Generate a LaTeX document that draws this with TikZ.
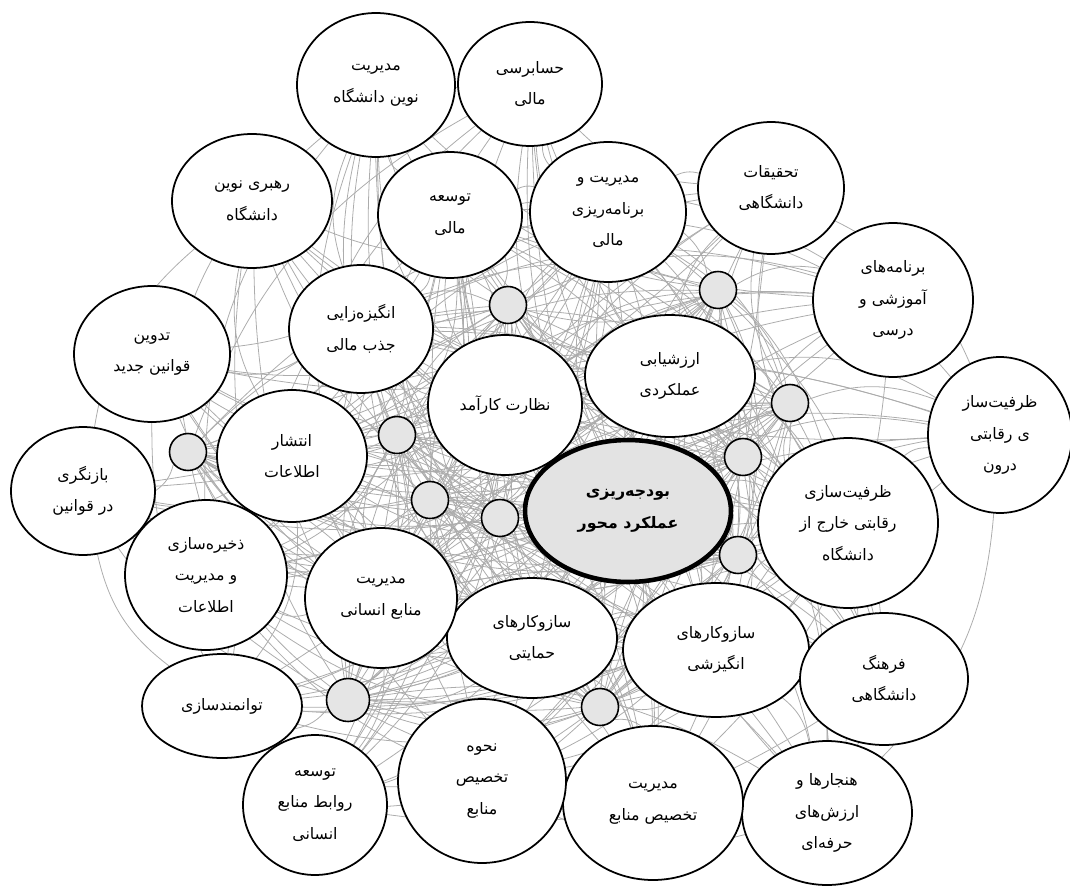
\documentclass[tikz,border=0pt]{standalone}
\usepackage{fontspec}
\newfontfamily\arabicfont[Script=Arabic]{DejaVu Sans}
\TeXXeTstate=1
\usetikzlibrary{shapes.geometric,backgrounds}

\newcommand{\fatxt}[1]{\beginR #1\endR}
\newcommand{\netlist}{budget,nezarat,arzesh,hemayat,angiz,tmali,barmali,jazb,enteshar,ensani,zkhar,h1,h2,h3,h4,h5,h6,h7,h8,h9,h10,h11,tahqiq,amuzesh,zdarun,farhang,hanjar,takhsis,nahve,ravabet,tavan,zakhire,baznegari,tadvin,rahbar,mudnow,hesab}

\tikzset{
  bub/.style 2 args={ellipse, draw, line width=1pt, fill=white, inner sep=0pt,
    minimum width={#1*0.4mm}, minimum height={#2*0.4mm}, align=center,
    font=\arabicfont\fontsize{9}{18}\selectfont},
  core/.style={ellipse, draw, line width=2.6pt, fill=gray!22, inner sep=0pt,
    minimum width=41.2mm, minimum height=28.4mm, align=center,
    font=\arabicfont\bfseries\fontsize{9}{18}\selectfont},
  hub/.style={circle, draw, line width=0.9pt, fill=gray!20, inner sep=0pt, minimum size=7.4mm},
  link/.style={gray!65, line width=0.45pt, bend left=20}
}

\begin{document}
\begin{tikzpicture}[x=0.02cm,y=-0.02cm]
\useasboundingbox (0,0) rectangle (1070,888);

% core
\node[core] (budget) at (628,511) {\fatxt{بودجه‌ریزی}\\\fatxt{عملکرد محور}};

% inner ring
\node[bub={77}{70}] (nezarat) at (505,405) {\fatxt{نظارت کارآمد}};
\node[bub={85}{61}] (arzesh) at (670,376) {\fatxt{ارزشیابی}\\\fatxt{عملکردی}};
\node[bub={85}{60}] (hemayat) at (532,638) {\fatxt{سازوکارهای}\\\fatxt{حمایتی}};
\node[bub={93}{67}] (angiz) at (716,650) {\fatxt{سازوکارهای}\\\fatxt{انگیزشی}};
\node[bub={72}{63}] (tmali) at (450,215) {\fatxt{توسعه}\\\fatxt{مالی}};
\node[bub={78}{70}] (barmali) at (608,212) {\fatxt{مدیریت و}\\\fatxt{برنامه‌ریزی}\\\fatxt{مالی}};
\node[bub={72}{64}] (jazb) at (361,329) {\fatxt{انگیزه‌زایی}\\\fatxt{جذب مالی}};
\node[bub={75}{66}] (enteshar) at (292,456) {\fatxt{انتشار}\\\fatxt{اطلاعات}};
\node[bub={76}{70}] (ensani) at (381,598) {\fatxt{مدیریت}\\\fatxt{منابع انسانی}};
\node[bub={90}{85}] (zkhar) at (848,523) {\fatxt{ظرفیت‌سازی}\\\fatxt{رقابتی خارج از}\\\fatxt{دانشگاه}};

% small hubs
\node[hub] (h1) at (718,290) {};
\node[hub] (h2) at (790,403) {};
\node[hub] (h3) at (743,457) {};
\node[hub] (h4) at (738,555) {};
\node[hub] (h5) at (600,707) {};
\node[hub, minimum size=8.6mm] (h6) at (348,700) {};
\node[hub] (h7) at (430,500) {};
\node[hub] (h8) at (500,518) {};
\node[hub] (h9) at (397,435) {};
\node[hub] (h10) at (188,452) {};
\node[hub] (h11) at (508,305) {};

% outer ring
\node[bub={73}{66}] (tahqiq) at (771,188) {\fatxt{تحقیقات}\\\fatxt{دانشگاهی}};
\node[bub={80}{77}] (amuzesh) at (893,300) {\fatxt{برنامه‌های}\\\fatxt{آموزشی و}\\\fatxt{درسی}};
\node[bub={72}{78}] (zdarun) at (1000,435) {\fatxt{ظرفیت‌ساز}\\\fatxt{ی رقابتی}\\\fatxt{درون}};
\node[bub={84}{66}] (farhang) at (884,679) {\fatxt{فرهنگ}\\\fatxt{دانشگاهی}};
\node[bub={85}{72}] (hanjar) at (827,813) {\fatxt{هنجارها و}\\\fatxt{ارزش‌های}\\\fatxt{حرفه‌ای}};
\node[bub={90}{77}] (takhsis) at (653,803) {\fatxt{مدیریت}\\\fatxt{تخصیص منابع}};
\node[bub={84}{82}] (nahve) at (482,781) {\fatxt{نحوه}\\\fatxt{تخصیص}\\\fatxt{منابع}};
\node[bub={72}{70}] (ravabet) at (315,805) {\fatxt{توسعه}\\\fatxt{روابط منابع}\\\fatxt{انسانی}};
\node[bub={80}{52}] (tavan) at (222,706) {\fatxt{توانمندسازی}};
\node[bub={81}{75}] (zakhire) at (206,575) {\fatxt{ذخیره‌سازی}\\\fatxt{و مدیریت}\\\fatxt{اطلاعات}};
\node[bub={72}{64}] (baznegari) at (83,491) {\fatxt{بازنگری}\\\fatxt{در قوانین}};
\node[bub={78}{68}] (tadvin) at (152,354) {\fatxt{تدوین}\\\fatxt{قوانین جدید}};
\node[bub={80}{67}] (rahbar) at (252,201) {\fatxt{رهبری نوین}\\\fatxt{دانشگاه}};
\node[bub={79}{72}] (mudnow) at (376,85) {\fatxt{مدیریت}\\\fatxt{نوین دانشگاه}};
\node[bub={72}{62}] (hesab) at (530,84) {\fatxt{حسابرسی}\\\fatxt{مالی}};

% links
\begin{pgfonlayer}{background}
\foreach \a [count=\i] in \netlist {
  \foreach \b [count=\j] in \netlist {
    \pgfmathtruncatemacro\ok{(\j>\i) && ((\i<=22 && \j<=22) || (\i<=22 && mod(\i+\j,2)==0) || mod(\i+\j,4)==0)}
    \ifnum\ok=1 \draw[link] (\a) to (\b); \fi
  }
}
\end{pgfonlayer}
\end{tikzpicture}
\end{document}
